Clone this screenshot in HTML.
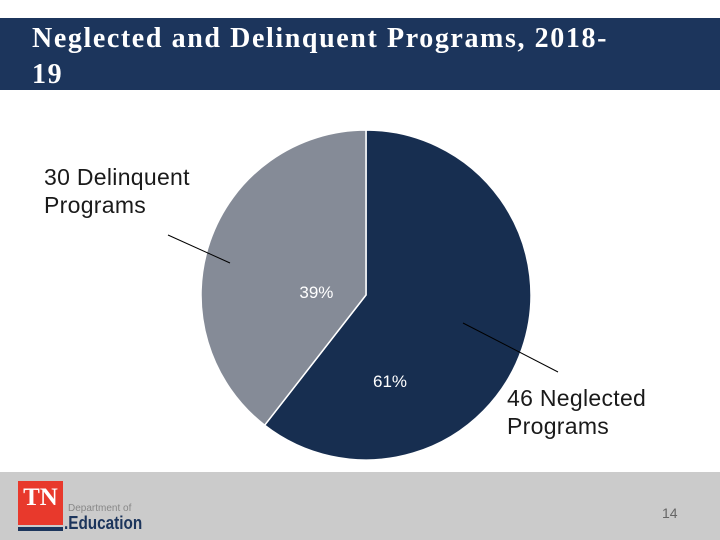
<!DOCTYPE html>
<html><head><meta charset="utf-8"><style>
body{margin:0;width:720px;height:540px;overflow:hidden;background:#fff;position:relative;font-family:"Liberation Sans",sans-serif}
.title{position:absolute;left:0;top:18px;width:720px;height:72px;background:#1c355c;color:#fff;font-family:"Liberation Serif",serif;font-weight:bold;font-size:28px;letter-spacing:1.6px;line-height:36px;padding-left:32px;box-sizing:border-box;padding-top:3px;white-space:nowrap}
.footer{position:absolute;left:0;top:472px;width:720px;height:68px;background:#cbcbcb}
.lbl{position:absolute;font-size:23px;letter-spacing:0.3px;line-height:28px;color:#1a1a1a}
</style></head><body>
<div class="title">Neglected and Delinquent Programs, 2018-<br>19</div>
<svg id="chart" width="720" height="540" style="position:absolute;left:0;top:0"></svg>
<div class="lbl" style="left:44px;top:163px">30 Delinquent<br>Programs</div>
<div class="lbl" style="left:507px;top:384px">46 Neglected<br>Programs</div>
<div class="footer">
 <div style="position:absolute;left:18px;top:9px;width:45px;height:44px;background:#e8392c;color:#fff;font-family:'Liberation Serif',serif;font-weight:bold;font-size:25px;line-height:34px;text-align:center">TN</div>
 <div style="position:absolute;left:18px;top:55px;width:45px;height:4px;background:#1c355c"></div>
 <div style="position:absolute;left:68px;top:31px;font-size:10px;color:#888">Department of</div>
 <div style="position:absolute;left:64px;top:41px;font-size:18px;font-weight:bold;color:#1c355c;transform:scaleX(0.85);transform-origin:left">.Education</div>
 <div style="position:absolute;left:662px;top:33px;font-size:14px;color:#666">14</div>
</div>
<script>
const categories=["Neglected","Delinquent"];
const values=[46,30];
const colors=["#172e50","#858b97"];
const svg=document.getElementById('chart');
const cx=366,cy=295,r=165;
const total=values.reduce((a,b)=>a+b,0);
let a0=-Math.PI/2;
const NS="http://www.w3.org/2000/svg";
values.forEach((v,i)=>{
 const a1=a0+v/total*2*Math.PI;
 const x0=cx+r*Math.cos(a0),y0=cy+r*Math.sin(a0),x1=cx+r*Math.cos(a1),y1=cy+r*Math.sin(a1);
 const p=document.createElementNS(NS,'path');
 p.setAttribute('d',`M${cx},${cy}L${x0},${y0}A${r},${r} 0 ${a1-a0>Math.PI?1:0} 1 ${x1},${y1}Z`);
 p.setAttribute('fill',colors[i]);p.setAttribute('stroke','#fff');p.setAttribute('stroke-width','1.5');
 
 
 svg.appendChild(p);
 const am=(a0+a1)/2;
 const t=document.createElementNS(NS,'text');
 const rr=i==0?0.5:0.35;
 t.setAttribute('x',cx+r*rr*Math.cos(am)+(i==0?-54:5));
 t.setAttribute('y',cy+r*rr*Math.sin(am)+(i==0?65:22));
 t.setAttribute('font-size','17');t.setAttribute('font-family','Liberation Sans, sans-serif');
 t.setAttribute('text-anchor','middle');
 t.setAttribute('fill','#fff');
 t.textContent=Math.round(v/total*100)+'%';
 
 
 svg.appendChild(t);
 a0=a1;
});
[[168,235,230,263],[463,323,558,372]].forEach((l,i)=>{
 const ln=document.createElementNS(NS,'line');
 ln.setAttribute('x1',l[0]);ln.setAttribute('y1',l[1]);ln.setAttribute('x2',l[2]);ln.setAttribute('y2',l[3]);
 ln.setAttribute('stroke','#000');ln.setAttribute('stroke-width','1');
 
 
 svg.appendChild(ln);
});
</script>
</body></html>
